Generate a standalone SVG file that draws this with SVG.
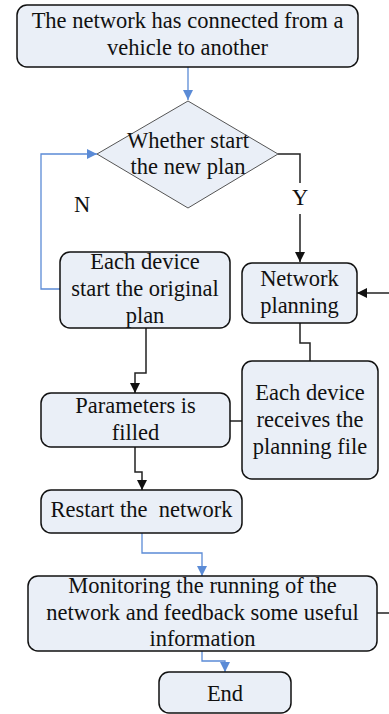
<svg xmlns="http://www.w3.org/2000/svg" width="389" height="714" viewBox="0 0 389 714">
<style>
.box{fill:#EAEFF7;stroke:#111;stroke-width:1.5}
.dia{fill:#EAEFF7;stroke:#555;stroke-width:1}
text{font-family:'Liberation Serif','Tinos','DejaVu Serif',serif;font-size:22.5px;fill:#111;text-anchor:middle;white-space:pre}
.blk{fill:none;stroke:#222;stroke-width:1.5}
.blu{fill:none;stroke:#5B8BD6;stroke-width:1.3}
</style>
<defs>
<marker id="ab" viewBox="0 0 10 10" refX="10" refY="5" markerWidth="10" markerHeight="10" markerUnits="userSpaceOnUse" orient="auto"><path d="M0,0L10,5L0,10z" fill="#111"/></marker>
<marker id="au" viewBox="0 0 10 10" refX="10" refY="5" markerWidth="10" markerHeight="10" markerUnits="userSpaceOnUse" orient="auto"><path d="M0,0L10,5L0,10z" fill="#5B8BD6"/></marker>
</defs>
<g id="connectors">
<path class="blu" d="M188,67V100" marker-end="url(#au)"/>
<path class="blk" d="M278,154H300V183"/>
<path class="blk" d="M300,214V262" marker-end="url(#ab)"/>
<path class="blu" d="M60,289H41V154H97" marker-end="url(#au)"/>
<path class="blk" d="M389,293H357" marker-end="url(#ab)"/>
<path class="blk" d="M300,323V343H310V361"/>
<path class="blk" d="M146,328V373H135V393" marker-end="url(#ab)"/>
<path class="blk" d="M230,421H242"/>
<path class="blk" d="M135,447V472H142V490" marker-end="url(#ab)"/>
<path class="blu" d="M142,533V553H202V576" marker-end="url(#au)"/>
<path class="blu" d="M202,651V661H225V672" marker-end="url(#au)"/>
<path class="blk" d="M377,613H389"/>
</g>
<g id="n1"><rect class="box" x="17" y="5" width="341" height="62" rx="10"/><text x="187.5" y="28" font-family="Liberation Serif, DejaVu Serif, serif">The network has connected from a</text><text x="187.5" y="55" font-family="Liberation Serif, DejaVu Serif, serif">vehicle to another</text></g>
<g id="n2"><path class="dia" d="M188,101L278,154L188,208L97,154z"/><text x="188" y="148">Whether start</text><text x="188" y="174">the new plan</text></g>
<g id="lblN"><text x="82" y="212">N</text></g>
<g id="lblY"><text x="300" y="205">Y</text></g>
<g id="n3"><rect class="box" x="60" y="252" width="170" height="76" rx="10"/><text x="145" y="269">Each device</text><text x="145" y="296">start the original</text><text x="145" y="323">plan</text></g>
<g id="n4"><rect class="box" x="242" y="263" width="115" height="60" rx="10"/><text x="299.5" y="286">Network</text><text x="299.5" y="313">planning</text></g>
<g id="n5"><rect class="box" x="242" y="361" width="136" height="118" rx="10"/><text x="310" y="400">Each device</text><text x="310" y="427">receives the</text><text x="310" y="454">planning file</text></g>
<g id="n6"><rect class="box" x="41" y="393" width="189" height="54" rx="10"/><text x="135.5" y="413">Parameters is</text><text x="135.5" y="440">filled</text></g>
<g id="n7"><rect class="box" x="41" y="490" width="201" height="43" rx="10"/><text x="141.5" y="517" xml:space="preserve">Restart the  network</text></g>
<g id="n8"><rect class="box" x="28" y="576" width="349" height="75" rx="10"/><text x="202.5" y="593">Monitoring the running of the</text><text x="202.5" y="620">network and feedback some useful</text><text x="202.5" y="646">information</text></g>
<g id="n9"><rect class="box" x="159" y="672" width="132" height="41" rx="10"/><text x="225" y="701">End</text></g>
</svg>
